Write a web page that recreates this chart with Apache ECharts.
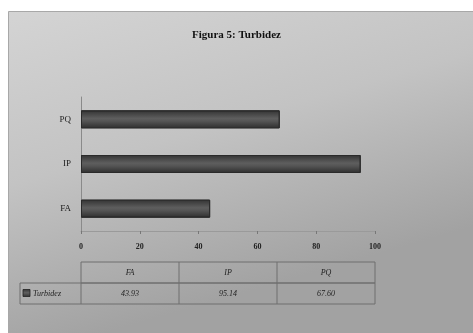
<!DOCTYPE html>
<html><head><meta charset="utf-8">
<script src="https://cdn.jsdelivr.net/npm/echarts@6/dist/echarts.min.js"></script>
<style>html,body{margin:0;padding:0;background:#fff}#c{width:473px;height:333px}</style>
</head><body><div id="c"></div>
<script>
const title = 'Figura 5: Turbidez';
const categories = ['FA', 'IP', 'PQ'];
const seriesName = 'Turbidez';
const values = [43.93, 95.14, 67.60];
const valueLabels = ['43.93', '95.14', '67.60'];
const xTicks = [0, 20, 40, 60, 80, 100];

const chart = echarts.init(document.getElementById('c'), null, {renderer: 'canvas'});
const font = 'Liberation Serif';
const grid = {left: 81, right: 98, top: 97, bottom: 102};

const barColor = new echarts.graphic.LinearGradient(0, 0, 0, 1, [
  {offset: 0, color: '#333'}, {offset: 0.45, color: '#5e5e5e'}, {offset: 0.6, color: '#555'}, {offset: 1, color: '#2e2e2e'}]);

chart.setOption({
  animation: false,
  title: {text: title, left: 'center', top: 25, textStyle: {fontFamily: font, fontSize: 11, fontWeight: 'bold', color: '#111'}},
  grid: grid,
  xAxis: {type: 'value', min: 0, max: 100, interval: 20,
    axisLine: {show: true, lineStyle: {color: '#9a9a9a'}},
    axisTick: {show: true, length: 3, lineStyle: {color: '#777'}},
    splitLine: {show: false},
    axisLabel: {fontFamily: font, fontSize: 8, fontWeight: 'bold', color: '#222', margin: 12}},
  yAxis: {type: 'category', data: categories,
    axisLine: {show: true, lineStyle: {color: '#8a8a8a'}},
    axisTick: {show: false},
    axisLabel: {fontFamily: font, fontSize: 9, color: '#222', margin: 10}},
  series: [{type: 'bar', name: seriesName, data: values, barWidth: 18,
    itemStyle: {color: barColor, borderColor: '#2a2a2a', borderWidth: 1}}]
});

function buildGraphics() {
  const W = 473, H = 333;
  const x0 = chart.convertToPixel({xAxisIndex: 0}, 0);
  const x1 = chart.convertToPixel({xAxisIndex: 0}, 100);
  const n = categories.length;
  const cw = (x1 - x0) / n;
  const rowTop = 262, rowH = 21, legLeft = 20;
  const els = [];
  els.push({type: 'rect', z: -10, silent: true,
    shape: {x: 8.5, y: 11.5, width: W - 8, height: H - 11},
    style: {fill: new echarts.graphic.LinearGradient(0, 0, 0.2, 1, [
      {offset: 0, color: '#d4d4d4'}, {offset: 0.5, color: '#c3c3c3'}, {offset: 1, color: '#a2a2a2'}]),
      stroke: '#a8a8a8', lineWidth: 1}});
  const lc = '#6e6e6e';
  els.push({type: 'rect', z: 5, shape: {x: x0, y: rowTop, width: x1 - x0, height: rowH}, style: {fill: 'none', stroke: lc, lineWidth: 1}});
  els.push({type: 'rect', z: 5, shape: {x: legLeft, y: rowTop + rowH, width: x1 - legLeft, height: rowH}, style: {fill: 'none', stroke: lc, lineWidth: 1}});
  els.push({type: 'line', z: 5, shape: {x1: x0, y1: rowTop + rowH, x2: x0, y2: rowTop + 2 * rowH}, style: {stroke: lc, lineWidth: 1}});
  for (let i = 1; i < n; i++) {
    const x = x0 + cw * i;
    els.push({type: 'line', z: 5, shape: {x1: x, y1: rowTop, x2: x, y2: rowTop + 2 * rowH}, style: {stroke: lc, lineWidth: 1}});
  }
  for (let i = 0; i < n; i++) {
    const cx = x0 + cw * (i + 0.5);
    els.push({type: 'text', z: 6, style: {text: categories[i], x: cx, y: rowTop + rowH / 2, align: 'center', verticalAlign: 'middle',
      font: 'italic 8px ' + font, fill: '#222'}});
    els.push({type: 'text', z: 6, style: {text: valueLabels[i], x: cx, y: rowTop + rowH * 1.5, align: 'center', verticalAlign: 'middle',
      font: 'italic 8px ' + font, fill: '#222'}});
  }
  els.push({type: 'rect', z: 6, shape: {x: legLeft + 3, y: rowTop + rowH * 1.5 - 4, width: 7, height: 7},
    style: {fill: barColor, stroke: '#222', lineWidth: 0.8}});
  els.push({type: 'text', z: 6, style: {text: seriesName, x: legLeft + 13, y: rowTop + rowH * 1.5, align: 'left', verticalAlign: 'middle',
    font: 'italic 8px ' + font, fill: '#222'}});
  chart.setOption({graphic: els});
}
buildGraphics();
</script></body></html>
